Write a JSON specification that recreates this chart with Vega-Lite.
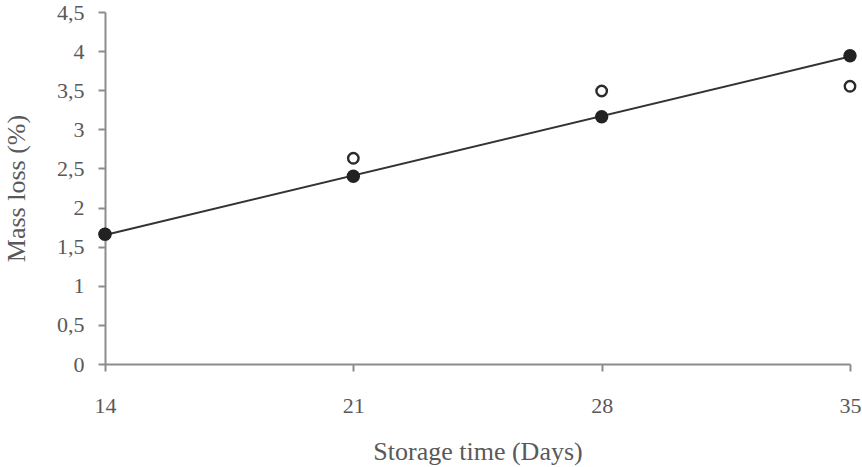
{
  "$schema": "https://vega.github.io/schema/vega-lite/v6.json",
  "autosize": {"type": "none"},
  "padding": {"left": 105, "top": 12, "right": 12, "bottom": 103},
  "width": 745,
  "height": 352,
  "background": "white",
  "config": {
    "view": {"stroke": null},
    "font": "Liberation Serif",
    "axis": {
      "grid": false,
      "domainColor": "#8c8c8c",
      "domainWidth": 2,
      "tickColor": "#8c8c8c",
      "tickWidth": 2,
      "labelColor": "#595959",
      "titleColor": "#595959",
      "labelFont": "Liberation Serif",
      "titleFont": "Liberation Serif",
      "labelFontSize": 22,
      "titleFontSize": 26,
      "titleFontWeight": "normal"
    }
  },
  "data": {
    "values": [
      {"day": 14, "loss": 1.66, "type": "open"},
      {"day": 21, "loss": 2.63, "type": "open"},
      {"day": 28, "loss": 3.49, "type": "open"},
      {"day": 35, "loss": 3.55, "type": "open"},
      {"day": 14, "loss": 1.66, "type": "filled"},
      {"day": 21, "loss": 2.4, "type": "filled"},
      {"day": 28, "loss": 3.16, "type": "filled"},
      {"day": 35, "loss": 3.94, "type": "filled"}
    ]
  },
  "encoding": {
    "x": {
      "field": "day", "type": "quantitative",
      "scale": {"domain": [14, 35], "nice": false, "zero": false},
      "axis": {"values": [14, 21, 28, 35], "title": "Storage time (Days)", "tickSize": 7, "labelPadding": 24, "titlePadding": 22, "labelFlush": false, "labelOverlap": false}
    },
    "y": {
      "field": "loss", "type": "quantitative",
      "scale": {"domain": [0, 4.5], "nice": false},
      "axis": {"values": [0, 0.5, 1, 1.5, 2, 2.5, 3, 3.5, 4, 4.5], "title": "Mass loss (%)", "tickSize": 7, "labelPadding": 14, "titlePadding": 27, "labelFlush": false, "labelOverlap": false, "labelExpr": "replace(format(datum.value, '~g'), '.', ',')"}
    }
  },
  "layer": [
    {
      "transform": [{"filter": "datum.type === 'open'"}],
      "mark": {"type": "point", "shape": "circle", "filled": false, "stroke": "#2b2b2b", "strokeWidth": 2.4, "size": 110, "opacity": 1}
    },
    {
      "transform": [
        {"filter": "datum.type === 'filled'"},
        {"regression": "loss", "on": "day", "extent": [14, 35]}
      ],
      "mark": {"type": "line", "color": "#333333", "strokeWidth": 2}
    },
    {
      "transform": [{"filter": "datum.type === 'filled'"}],
      "mark": {"type": "point", "shape": "circle", "filled": true, "color": "#222222", "size": 180, "opacity": 1}
    }
  ]
}
